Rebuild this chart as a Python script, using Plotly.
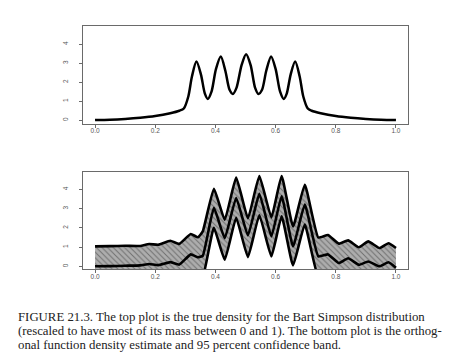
import plotly.graph_objects as go

# ---------------- data ----------------
# Top: true Bart Simpson density
top_x = [0.00, 0.05, 0.10, 0.15, 0.20, 0.25, 0.28, 0.295, 0.31, 0.322, 0.337, 0.352, 0.365, 0.375,
         0.387, 0.402, 0.418, 0.433, 0.447, 0.458, 0.470, 0.487, 0.502, 0.517, 0.532, 0.543,
         0.555, 0.569, 0.585, 0.600, 0.615, 0.627, 0.637, 0.650, 0.665, 0.680, 0.692, 0.707,
         0.72, 0.75, 0.80, 0.85, 0.90, 0.95, 1.00]
top_y = [0.01, 0.03, 0.07, 0.13, 0.22, 0.37, 0.50, 0.62, 1.25, 2.30, 3.08, 2.40, 1.40, 1.12,
         1.50, 2.70, 3.35, 2.60, 1.60, 1.38, 1.70, 2.90, 3.47, 2.90, 1.70, 1.38,
         1.60, 2.60, 3.35, 2.70, 1.50, 1.12, 1.40, 2.40, 3.08, 2.30, 1.25, 0.62,
         0.50, 0.37, 0.22, 0.13, 0.07, 0.03, 0.01]

# Bottom: orthogonal function estimate with 95% band
bot_x = [0.00, 0.05, 0.10, 0.15, 0.18, 0.21, 0.25, 0.28, 0.318, 0.342, 0.358, 0.395, 0.431, 0.469,
         0.508, 0.546, 0.586, 0.620, 0.658, 0.697, 0.742, 0.774, 0.810, 0.841, 0.877, 0.908,
         0.945, 0.975, 1.00]
upper = [1.04, 1.05, 1.07, 1.06, 1.16, 1.12, 1.33, 1.17, 1.68, 1.51, 1.82, 4.04, 2.43, 4.62,
         2.50, 4.70, 2.55, 4.70, 2.08, 4.25, 1.50, 1.63, 1.18, 1.35, 0.99, 1.30,
         0.95, 1.20, 0.95]
estimate = [0.00, 0.01, 0.03, 0.05, 0.12, 0.06, 0.22, 0.09, 0.62, 0.47, 0.55, 3.04, 1.47, 3.56,
            1.61, 3.77, 1.56, 3.65, 1.04, 3.21, 0.52, 0.62, 0.17, 0.42, 0.08, 0.25,
            0.00, 0.21, -0.07]
lower = [-1.05, -1.04, -1.02, -1.00, -0.93, -0.99, -0.85, -0.98, -0.45, -0.60, -0.55, 2.00, 0.34, 2.52,
         0.48, 2.66, 0.52, 2.60, 0.05, 2.17, -0.55, -0.43, -0.88, -0.63, -0.97, -0.80,
         -1.05, -0.84, -1.12]

x_ticks = [0.0, 0.2, 0.4, 0.6, 0.8, 1.0]
y_ticks = [0, 1, 2, 3, 4]

caption_lines = [
    "FIGURE 21.3. The top plot is the true density for the Bart Simpson distribution",
    "(rescaled to have most of its mass between 0 and 1). The bottom plot is the orthog-",
    "onal function density estimate and 95 percent confidence band.",
]

# ---------------- figure ----------------
W, H = 466, 355
fig = go.Figure()

fig.add_trace(go.Scatter(x=top_x, y=top_y, mode="lines",
                         line=dict(color="black", width=2.5, shape="spline", smoothing=0.8),
                         xaxis="x", yaxis="y", showlegend=False, hoverinfo="skip"))

fig.add_trace(go.Scatter(x=bot_x, y=upper, mode="lines", line=dict(color="rgba(0,0,0,0)", width=0),
                         xaxis="x2", yaxis="y2", showlegend=False, hoverinfo="skip"))
fig.add_trace(go.Scatter(x=bot_x, y=lower, mode="lines", line=dict(color="rgba(0,0,0,0)", width=0),
                         fill="tonexty", fillcolor="#a8a8a8",
                         fillpattern=dict(shape="\\", fgcolor="#707070", bgcolor="#adadad",
                                          size=4, solidity=0.25, fillmode="replace"),
                         xaxis="x2", yaxis="y2", showlegend=False, hoverinfo="skip"))
for ys in (upper, estimate, lower):
    fig.add_trace(go.Scatter(x=bot_x, y=ys, mode="lines",
                             line=dict(color="black", width=2.6, shape="spline", smoothing=0.4),
                             xaxis="x2", yaxis="y2", showlegend=False, hoverinfo="skip"))

def px_x(p):
    return p / W

def px_y(p):
    return 1 - p / H

axis_common = dict(showline=True, mirror=True, linecolor="#6a6a6a", linewidth=1,
                   ticks="outside", ticklen=3, tickcolor="#6a6a6a", tickwidth=1,
                   showgrid=False, zeroline=False,
                   tickfont=dict(family="Liberation Sans, Arial, sans-serif", size=6.5, color="#555"))

fig.update_layout(
    width=W, height=H,
    margin=dict(l=0, r=0, t=0, b=0),
    paper_bgcolor="white", plot_bgcolor="white",
    xaxis=dict(domain=[px_x(75), px_x(400)], range=[-0.04, 1.04], anchor="y",
               tickvals=x_ticks, ticktext=[f"{v:.1f}" for v in x_ticks], ticklabelstandoff=-2,
               **axis_common),
    yaxis=dict(domain=[px_y(115.5), px_y(18)], range=[-0.17, 4.95], anchor="x",
               tickvals=y_ticks, ticktext=[str(v) for v in y_ticks], tickangle=-90,
               ticklabelstandoff=8, **axis_common),
    xaxis2=dict(domain=[px_x(75), px_x(400)], range=[-0.04, 1.04], anchor="y2",
                tickvals=x_ticks, ticktext=[f"{v:.1f}" for v in x_ticks], ticklabelstandoff=-2,
                **axis_common),
    yaxis2=dict(domain=[px_y(261), px_y(164)], range=[-0.14, 4.91], anchor="x2",
                tickvals=y_ticks, ticktext=[str(v) for v in y_ticks], tickangle=-90,
                ticklabelstandoff=8, **axis_common),
)

cap_y = [308.5, 322.5, 336.5]
for line, yy in zip(caption_lines, cap_y):
    fig.add_annotation(text=line, xref="paper", yref="paper", x=px_x(9), y=px_y(yy),
                       xanchor="left", yanchor="middle", showarrow=False, borderpad=0,
                       font=dict(family="Liberation Serif, Times New Roman, serif", size=12.8,
                                 color="#222"))

fig.write_html("out.html")
